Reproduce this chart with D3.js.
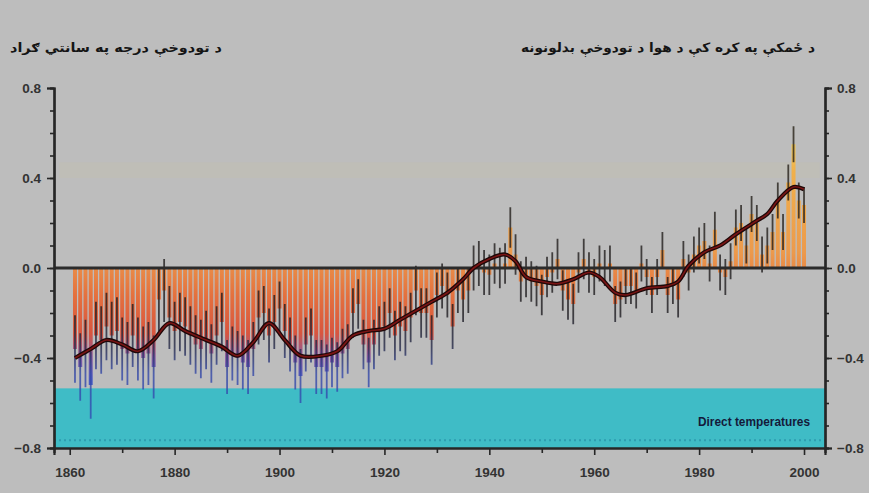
<!DOCTYPE html>
<html>
<head>
<meta charset="utf-8">
<script src="https://cdn.jsdelivr.net/npm/d3@7"></script>
<style>
html, body { margin: 0; padding: 0; background: #bdbdbd; }
svg { display: block; }
</style>
</head>
<body>
<svg id="chart" width="869" height="493"></svg>
<script>
// annual anomalies 1861..2000
var years = d3.range(1861, 2001);
var anomalies = [
  -0.36, -0.44, -0.38, -0.52, -0.30, -0.32, -0.26, -0.30, -0.28, -0.36,
  -0.38, -0.30, -0.36, -0.40, -0.38, -0.44, -0.14, -0.10, -0.22, -0.28,
  -0.24, -0.26, -0.30, -0.34, -0.36, -0.32, -0.38, -0.30, -0.24, -0.44,
  -0.38, -0.40, -0.42, -0.44, -0.36, -0.22, -0.20, -0.30, -0.24, -0.18,
  -0.28, -0.34, -0.42, -0.48, -0.34, -0.30, -0.44, -0.44, -0.46, -0.42,
  -0.44, -0.38, -0.36, -0.20, -0.16, -0.34, -0.42, -0.34, -0.28, -0.26,
  -0.20, -0.30, -0.26, -0.28, -0.22, -0.10, -0.20, -0.20, -0.32, -0.12,
  -0.08, -0.12, -0.26, -0.10, -0.14, -0.10, 0.00, 0.02, -0.02, -0.03,
  0.02, 0.00, 0.02, 0.18, 0.06, -0.06, -0.04, -0.06, -0.08, -0.12,
  -0.04, -0.02, 0.04, -0.10, -0.14, -0.16, -0.02, 0.04, -0.02, -0.04,
  0.02, 0.00, 0.02, -0.16, -0.14, -0.08, -0.08, -0.10, 0.02, -0.04,
  -0.12, -0.04, 0.08, -0.12, -0.08, -0.14, 0.04, -0.02, 0.06, 0.10,
  0.12, 0.02, 0.17, -0.02, -0.04, 0.03, 0.18, 0.20, 0.10, 0.24,
  0.20, 0.06, 0.10, 0.16, 0.30, 0.16, 0.38, 0.55, 0.30, 0.28
];
// half length of the dark whiskers, one value per decade (1860s..2000)
var errByDecade = [0.15, 0.14, 0.13, 0.12, 0.12, 0.11, 0.11, 0.10, 0.09, 0.09, 0.08, 0.08, 0.08, 0.08, 0.08];

// smoothed curve
var smoothYears = [1861, 1864, 1867, 1870, 1873, 1876, 1879, 1882, 1886, 1889, 1892, 1895, 1898, 1901, 1904, 1908,
  1911, 1914, 1917, 1920, 1923, 1926, 1929, 1932, 1935, 1937, 1940, 1943, 1945, 1947, 1950, 1953, 1956, 1959,
  1961, 1964, 1966, 1970, 1974, 1976, 1978, 1981, 1984, 1987, 1991, 1993, 1995, 1998, 2000];
var smoothValues = [-0.40, -0.36, -0.32, -0.34, -0.37, -0.32, -0.245, -0.28, -0.32, -0.35, -0.39, -0.33, -0.245, -0.32, -0.39, -0.39,
  -0.37, -0.30, -0.28, -0.27, -0.23, -0.19, -0.15, -0.11, -0.05, 0.00, 0.04, 0.06, 0.03, -0.04, -0.06, -0.07, -0.05, -0.02,
  -0.04, -0.11, -0.12, -0.09, -0.08, -0.06, 0.01, 0.07, 0.10, 0.15, 0.21, 0.24, 0.30, 0.36, 0.35];

var yLabels = [-0.8, -0.4, 0.0, 0.4, 0.8];
var yMinor = d3.range(-8, 9).map(function (d) { return d / 10; });
var xLabels = [1860, 1880, 1900, 1920, 1940, 1960, 1980, 2000];
var xMinor = [1870, 1890, 1910, 1930, 1950, 1970, 1990];

var titleLeft = "د تودوخې درجه په سانتي ګراد";
var titleRight = "د ځمکې په کره کې د هوا د تودوخې بدلونونه";
var bandLabel = "Direct temperatures";

var svg = d3.select("#chart");

var x = d3.scaleLinear().domain([1857, 2004]).range([54, 825]);
var y = d3.scaleLinear().domain([-0.8, 0.8]).range([448, 88]);

var defs = svg.append("defs");

// bar colour depends on height: yellow on top, orange, red, then blue at the bottom
var barGrad = defs.append("linearGradient")
    .attr("id", "barGrad")
    .attr("gradientUnits", "userSpaceOnUse")
    .attr("x1", 0).attr("x2", 0)
    .attr("y1", y(0.7)).attr("y2", y(-0.8));
[[0, "#f2e66a"], [0.18, "#f0b04a"], [0.42, "#ec9a4c"], [0.55, "#e4703e"], [0.66, "#d8553e"], [0.73, "#8a5aa0"], [0.8, "#4a5cc4"], [1, "#3d54c0"]]
    .forEach(function (s) {
        barGrad.append("stop").attr("offset", s[0]).attr("stop-color", s[1]);
    });

var whiskGrad = defs.append("linearGradient")
    .attr("id", "whiskGrad")
    .attr("gradientUnits", "userSpaceOnUse")
    .attr("x1", 0).attr("x2", 0)
    .attr("y1", y(0.7)).attr("y2", y(-0.8));
[[0, "#2a2418"], [0.6, "#1e1c20"], [0.7, "#262a48"], [0.78, "#3448a8"], [1, "#3250bc"]]
    .forEach(function (s) {
        whiskGrad.append("stop").attr("offset", s[0]).attr("stop-color", s[1]);
    });

// faint yellow glow band near 0.4
svg.append("rect")
    .attr("x", x(1858)).attr("y", y(0.47))
    .attr("width", x(2003) - x(1858)).attr("height", y(0.4) - y(0.47))
    .attr("fill", "#d8d08a").attr("opacity", 0.1);

// cyan band
svg.append("rect")
    .attr("x", x(1857)).attr("y", y(-0.535))
    .attr("width", x(2004) - x(1857)).attr("height", y(-0.8) - y(-0.535))
    .attr("fill", "#3fbcc6");

svg.append("line")
    .attr("x1", x(1857)).attr("x2", x(2004))
    .attr("y1", y(-0.765)).attr("y2", y(-0.765))
    .attr("stroke", "#2f9cb0")
    .attr("stroke-width", 2)
    .attr("stroke-dasharray", "2,3");

svg.append("text")
    .attr("x", 810).attr("y", 426)
    .attr("text-anchor", "end")
    .attr("font-family", "'Liberation Sans Narrow', 'Liberation Sans', Arial, sans-serif")
    .attr("font-weight", "bold")
    .attr("font-size", 13)
    .attr("fill", "#141a3a")
    .attr("textLength", 112)
    .attr("lengthAdjust", "spacingAndGlyphs")
    .text(bandLabel);

var step = x(1) - x(0);
var data = years.map(function (yr, i) {
    return { year: yr, v: anomalies[i], e: errByDecade[Math.floor((yr - 1860) / 10)] };
});

// bars
svg.append("g").selectAll("rect")
    .data(data)
    .enter().append("rect")
    .attr("x", function (d) { return x(d.year) - step * 0.38; })
    .attr("width", step * 0.76)
    .attr("y", function (d) { return Math.min(y(d.v), y(0)); })
    .attr("height", function (d) { return Math.abs(y(d.v) - y(0)); })
    .attr("fill", "url(#barGrad)");

// whiskers
svg.append("g").selectAll("rect")
    .data(data)
    .enter().append("rect")
    .attr("x", function (d) { return x(d.year) - 0.9; })
    .attr("width", 1.8)
    .attr("y", function (d) { return y(d.v + d.e); })
    .attr("height", function (d) { return y(d.v - d.e) - y(d.v + d.e); })
    .attr("fill", "url(#whiskGrad)")
    .attr("opacity", 0.8);

// zero line
svg.append("line")
    .attr("x1", x(1857)).attr("x2", x(2004))
    .attr("y1", y(0)).attr("y2", y(0))
    .attr("stroke", "#2b2b2b")
    .attr("stroke-width", 3);

// smoothed curve
var line = d3.line()
    .x(function (d, i) { return x(smoothYears[i]); })
    .y(function (d) { return y(d); })
    .curve(d3.curveCatmullRom.alpha(0.5));

svg.append("path")
    .attr("d", line(smoothValues))
    .attr("fill", "none")
    .attr("stroke", "#1e0808")
    .attr("stroke-width", 4.2);
svg.append("path")
    .attr("d", line(smoothValues))
    .attr("fill", "none")
    .attr("stroke", "#7a1414")
    .attr("stroke-width", 1.6);

// axes
var fmt = d3.format(".1f");
var tickFont = "'Liberation Sans Narrow', 'Liberation Sans', Arial, sans-serif";

function styleAxis(g) {
    g.select(".domain").attr("stroke", "#262626").attr("stroke-width", 2.2);
    g.selectAll(".tick line").attr("stroke", "#262626").attr("stroke-width", 1.6);
    g.selectAll("text")
        .attr("font-family", tickFont)
        .attr("font-weight", "bold")
        .attr("font-size", 13.5)
        .attr("fill", "#333333");
}

svg.append("g")
    .attr("transform", "translate(" + x(1857) + ",0)")
    .call(d3.axisLeft(y).tickValues(yMinor).tickSize(4).tickFormat(""))
    .call(styleAxis);
svg.append("g")
    .attr("transform", "translate(" + x(1857) + ",0)")
    .call(d3.axisLeft(y).tickValues(yLabels).tickSize(7).tickPadding(6).tickFormat(fmt))
    .call(styleAxis);

svg.append("g")
    .attr("transform", "translate(" + x(2004) + ",0)")
    .call(d3.axisRight(y).tickValues(yMinor).tickSize(4).tickFormat(""))
    .call(styleAxis);
svg.append("g")
    .attr("transform", "translate(" + x(2004) + ",0)")
    .call(d3.axisRight(y).tickValues(yLabels).tickSize(7).tickPadding(5).tickFormat(fmt))
    .call(styleAxis);

svg.append("g")
    .attr("transform", "translate(0," + y(-0.8) + ")")
    .call(d3.axisBottom(x).tickValues(xMinor).tickSize(5).tickFormat(""))
    .call(styleAxis);
svg.append("g")
    .attr("transform", "translate(0," + y(-0.8) + ")")
    .call(d3.axisBottom(x).tickValues(xLabels).tickSize(7).tickPadding(12).tickFormat(d3.format("d")))
    .call(styleAxis);

// titles
svg.append("text")
    .attr("x", 222).attr("y", 52)
    .attr("text-anchor", "end")
    .attr("font-family", "'DejaVu Sans', sans-serif")
    .attr("font-weight", "bold")
    .attr("font-size", 13)
    .attr("fill", "#151515")
    .attr("textLength", 212)
    .attr("lengthAdjust", "spacingAndGlyphs")
    .text(titleLeft);

svg.append("text")
    .attr("x", 815).attr("y", 52)
    .attr("text-anchor", "end")
    .attr("font-family", "'DejaVu Sans', sans-serif")
    .attr("font-weight", "bold")
    .attr("font-size", 13)
    .attr("fill", "#151515")
    .attr("textLength", 294)
    .attr("lengthAdjust", "spacingAndGlyphs")
    .text(titleRight);
</script>
</body>
</html>
